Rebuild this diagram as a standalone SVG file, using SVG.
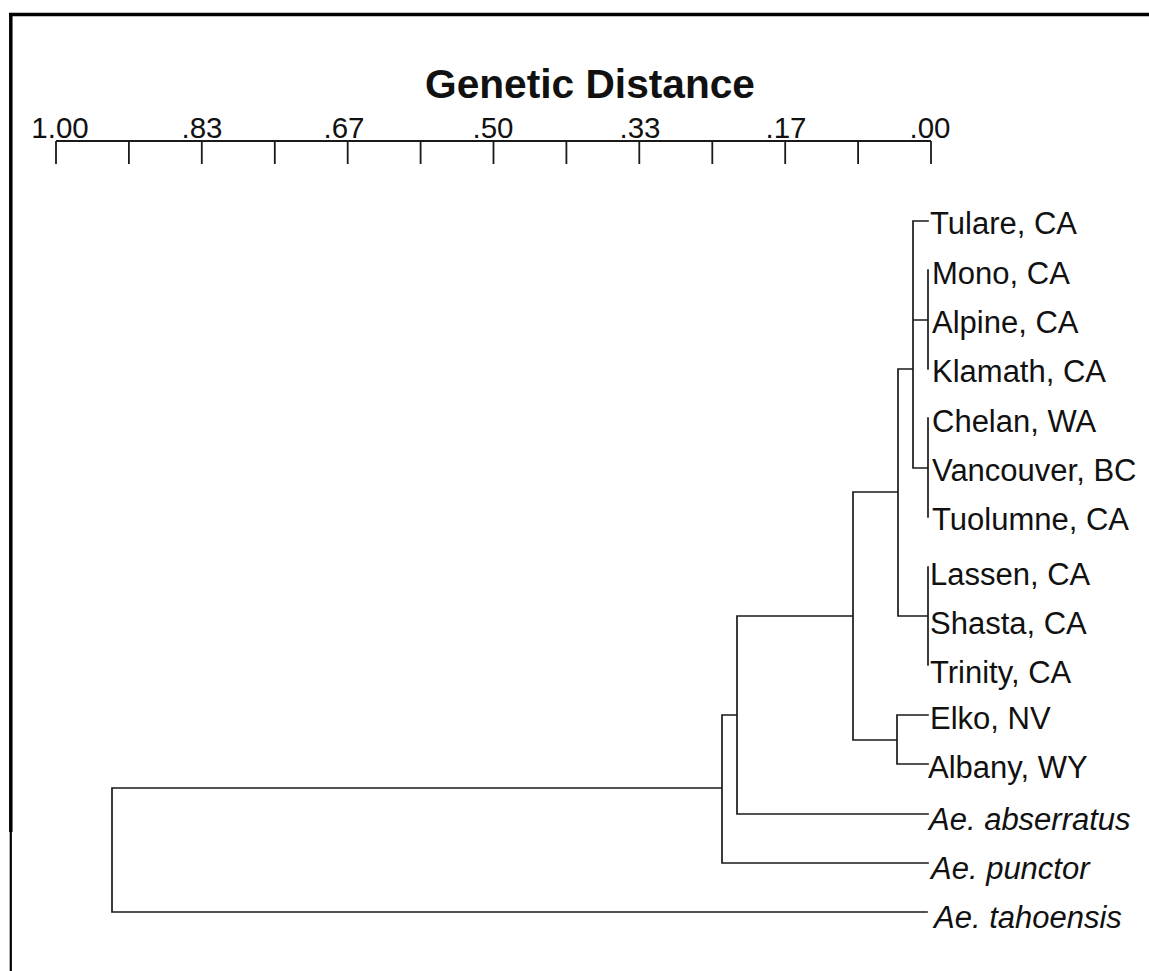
<svg xmlns="http://www.w3.org/2000/svg" width="1149" height="971" viewBox="0 0 1149 971">
  <style>
    .frame { stroke: #000; fill: none; }
    .axis { stroke: #1a1a1a; stroke-width: 1.8; fill: none; }
    .tick-label { font-family: "Liberation Sans", Arial, sans-serif; font-size: 29.5px; fill: #111; text-anchor: middle; }
    .title { font-family: "Liberation Sans", Arial, sans-serif; font-size: 40px; font-weight: bold; fill: #111; }
    .leaf { font-family: "Liberation Sans", Arial, sans-serif; font-size: 31px; fill: #111; }
    .species { font-style: italic; }
    .branch { stroke: #1a1a1a; stroke-width: 1.7; fill: none; stroke-linecap: square; }
  </style>

  <rect width="1149" height="971" fill="#fff"/>

  <!-- outer frame: top and left edges -->
  <g id="frame">
    <line class="frame" x1="9" y1="14.5" x2="1149" y2="14.5" stroke-width="3.5"/>
    <line class="frame" x1="10.8" y1="13" x2="10.8" y2="832" stroke-width="3.5"/>
    <line class="frame" x1="10.8" y1="832" x2="10.8" y2="971" stroke-width="2.2"/>
  </g>

  <!-- distance scale -->
  <g id="scale">
    <text class="title" x="425" y="98" textLength="330" lengthAdjust="spacingAndGlyphs">Genetic Distance</text>
    <path class="axis" d="M56 141 H931
      M56 141 V164 M128.9 141 V164 M201.8 141 V164 M274.8 141 V164
      M347.7 141 V164 M420.6 141 V164 M493.5 141 V164 M566.4 141 V164
      M639.3 141 V164 M712.3 141 V164 M785.2 141 V164 M858.1 141 V164
      M931 141 V164"/>
    <text class="tick-label" x="60" y="138">1.00</text>
    <text class="tick-label" x="202" y="138">.83</text>
    <text class="tick-label" x="344" y="138">.67</text>
    <text class="tick-label" x="493" y="138">.50</text>
    <text class="tick-label" x="640" y="138">.33</text>
    <text class="tick-label" x="786" y="138">.17</text>
    <text class="tick-label" x="930" y="138">.00</text>
  </g>

  <!-- dendrogram branches -->
  <g id="connectors">
    <path class="branch" d="
      M913 221 H928
      M928 270 V369
      M913 320 H928
      M928 418 V517
      M913 468 H928
      M913 221 V468
      M898 369 H913
      M898 369 V616
      M928 567 V665
      M898 616 H928
      M853 492 H898
      M897 715 V764
      M897 715 H928
      M897 764 H928
      M853 740 H897
      M853 492 V740
      M737 616 H853
      M737 616 V814
      M737 814 H928
      M722 715 H737
      M722 715 V863
      M722 863 H928
      M112 788 H722
      M112 788 V912
      M112 912 H927"/>
  </g>

  <!-- leaf labels -->
  <g id="leaf-tulare"><text class="leaf" x="930" y="234">Tulare, CA</text></g>
  <g id="leaf-mono"><text class="leaf" x="932" y="284">Mono, CA</text></g>
  <g id="leaf-alpine"><text class="leaf" x="932" y="333">Alpine, CA</text></g>
  <g id="leaf-klamath"><text class="leaf" x="932" y="382">Klamath, CA</text></g>
  <g id="leaf-chelan"><text class="leaf" x="932" y="432">Chelan, WA</text></g>
  <g id="leaf-vancouver"><text class="leaf" x="932" y="481">Vancouver, BC</text></g>
  <g id="leaf-tuolumne"><text class="leaf" x="932" y="530">Tuolumne, CA</text></g>
  <g id="leaf-lassen"><text class="leaf" x="930" y="585">Lassen, CA</text></g>
  <g id="leaf-shasta"><text class="leaf" x="930" y="634">Shasta, CA</text></g>
  <g id="leaf-trinity"><text class="leaf" x="930" y="683">Trinity, CA</text></g>
  <g id="leaf-elko"><text class="leaf" x="930" y="729">Elko, NV</text></g>
  <g id="leaf-albany"><text class="leaf" x="928" y="778">Albany, WY</text></g>
  <g id="leaf-abserratus"><text class="leaf species" x="929" y="830">Ae. abserratus</text></g>
  <g id="leaf-punctor"><text class="leaf species" x="931" y="879">Ae. punctor</text></g>
  <g id="leaf-tahoensis"><text class="leaf species" x="934" y="928">Ae. tahoensis</text></g>
</svg>
